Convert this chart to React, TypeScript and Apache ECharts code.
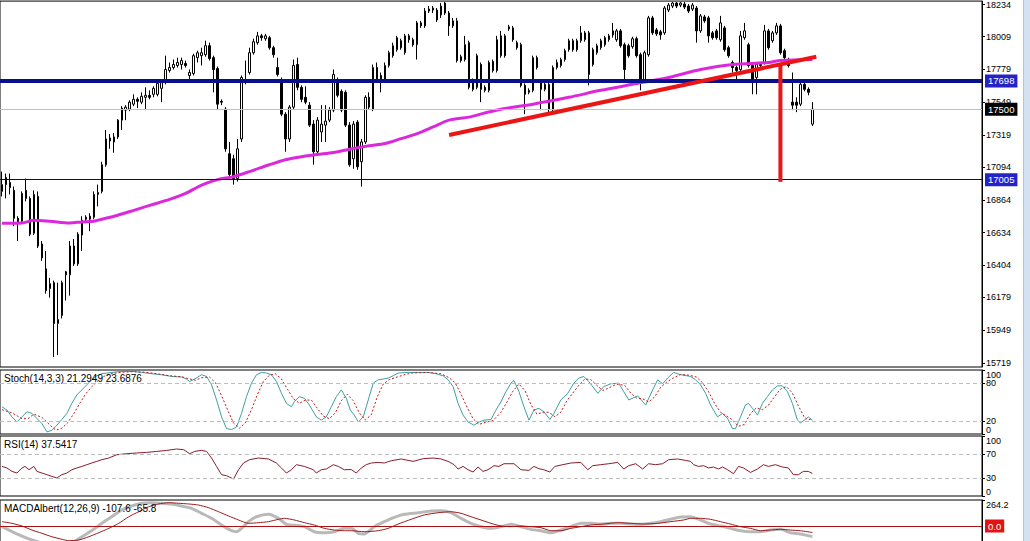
import React, { useEffect, useRef } from "react";
import * as echarts from "echarts";

// ---------- DATA ----------
// candles: [open, close, low, high]
const CANDLES: number[][] = [
  [16923,16971,16888,17062],[17020,16971,16874,17048],[16985,16950,16902,17048],[16930,16735,16679,16957],
  [16735,16700,16575,16749],[16714,16909,16700,16923],[16930,16874,16853,17013],[16874,16623,16609,16888],
  [16630,16902,16617,16930],[16888,16540,16526,16923],[16554,16457,16436,16575],[16380,16227,16206,16505],
  [16241,16276,16178,16317],[16283,15997,15761,16297],[15997,16025,15775,16283],[16053,16283,16032,16297],
  [16359,16338,16158,16366],[16338,16540,16192,16575],[16540,16415,16401,16589],[16415,16623,16401,16637],
  [16617,16721,16505,16749],[16728,16742,16714,16756],[16728,16749,16644,16770],[16742,16902,16728,16923],
  [16902,16916,16818,16971],[16923,17110,16909,17131],[17110,17291,17096,17354],[17298,17277,17222,17326],
  [17305,17270,17194,17333],[17305,17423,17291,17430],[17423,17507,17354,17521],[17493,17514,17423,17528],
  [17500,17549,17486,17562],[17535,17569,17521,17604],[17569,17555,17507,17583],[17549,17590,17535,17618],
  [17583,17597,17500,17653],[17597,17583,17569,17632],[17604,17646,17583,17660],[17604,17681,17590,17702],
  [17646,17688,17549,17702],[17688,17778,17674,17875],[17771,17792,17757,17827],[17792,17813,17778,17848],
  [17806,17827,17792,17861],[17813,17841,17778,17861],[17820,17806,17792,17841],[17736,17757,17708,17778],
  [17750,17875,17736,17889],[17861,17896,17827,17910],[17875,17896,17806,17931],[17882,17945,17868,17980],
  [17945,17855,17841,17966],[17861,17778,17618,17875],[17785,17535,17500,17799],[17555,17549,17528,17569],
  [17500,17222,17201,17514],[17187,17041,17027,17270],[17152,17013,16971,17180],[17013,17222,16992,17291],
  [17291,17722,17270,17736],[17688,17708,17674,17841],[17757,17896,17743,17931],[17896,17973,17882,17994],
  [17966,18014,17952,18042],[18014,18001,17980,18028],[17994,18014,17980,18028],[18001,17931,17917,18014],
  [17931,17882,17861,17945],[17792,17743,17729,17861],[17708,17465,17451,17722],[17465,17291,17201,17479],
  [17291,17514,17270,17528],[17514,17806,17500,17848],[17813,17653,17632,17861],[17653,17569,17549,17667],
  [17583,17549,17535,17660],[17528,17388,17375,17549],[17395,17201,17110,17423],[17201,17423,17187,17444],
  [17340,17395,17270,17528],[17388,17416,17270,17528],[17423,17493,17409,17514],[17493,17743,17479,17778],
  [17708,17597,17583,17722],[17625,17493,17479,17639],[17618,17388,17375,17632],[17388,17110,17096,17409],
  [17152,17395,17082,17416],[17409,17096,17075,17423],[17131,17270,16957,17291],[17270,17583,17256,17597],
  [17583,17514,17500,17618],[17500,17792,17486,17813],[17792,17702,17688,17827],[17736,17702,17618,17757],
  [17702,17806,17688,17827],[17806,17896,17792,17910],[17875,17945,17861,17966],[17917,18001,17903,18014],
  [17980,17931,17917,17994],[17896,18014,17882,18028],[18014,17987,17966,18028],[17987,17952,17938,18001],
  [17952,18105,17848,18119],[18105,18084,18070,18119],[18084,18188,18070,18209],[18188,18202,18174,18223],
  [18195,18209,18174,18223],[18195,18126,18112,18209],[18161,18223,18140,18244],[18244,18174,18161,18251],
  [18174,18084,18014,18188],[18084,18119,18070,18140],[18119,17841,17827,18140],[17868,17841,17827,17882],
  [17848,17952,17834,18014],[17966,17653,17639,17980],[17702,17639,17625,17715],[17653,17875,17639,17889],
  [17813,17639,17549,17827],[17653,17632,17618,17667],[17632,17827,17618,17841],[17834,17771,17757,17848],
  [17771,17987,17757,18014],[17875,18014,17861,18049],[18014,17875,17861,18028],[18063,18077,18049,18091],
  [18070,17987,17973,18084],[17966,17931,17917,17980],[17952,17667,17653,17966],[17667,17604,17465,17681],
  [17618,17632,17604,17646],[17632,17861,17618,17875],[17861,17792,17778,17875],[17688,17639,17493,17702],
  [17639,17674,17625,17688],[17674,17500,17479,17688],[17500,17792,17486,17806],[17792,17827,17778,17848],
  [17806,17848,17792,17861],[17848,17910,17834,17924],[17917,17980,17903,17994],[17980,17917,17903,17994],
  [17917,17980,17903,17994],[17980,18035,17966,18084],[17987,18035,17973,18049],[18035,17743,17667,18049],
  [17917,17813,17799,17931],[17896,17945,17882,17959],[17931,17980,17917,17994],[17952,18001,17938,18014],
  [17987,18014,17973,18028],[18049,18021,18001,18105],[17987,18049,17973,18063],[18049,17945,17931,18063],
  [17952,17778,17708,17966],[17945,17875,17861,17959],[17938,17994,17924,18008],[17994,17875,17861,18008],
  [17882,17708,17632,17896],[17708,17896,17695,17910],[17882,18140,17868,18154],[18140,18035,18021,18154],
  [18056,18028,18014,18070],[18042,18021,17987,18056],[18035,18209,18021,18223],[18195,18230,18181,18244],
  [18223,18244,18209,18251],[18244,18223,18209,18251],[18230,18244,18216,18251],[18237,18216,18202,18251],
  [18223,18188,18174,18237],[18202,18230,18188,18244],[18209,18049,17966,18223],[18049,18154,18035,18167],
  [18147,18119,18105,18161],[18140,18014,17966,18154],[18035,18001,17987,18049],[18049,18001,17987,18063],
  [17987,18105,17973,18154],[18070,17917,17903,18084],[17931,17875,17861,17945],[17827,17792,17757,17841],
  [17792,17771,17702,17806],[17778,18014,17764,18049],[18001,18049,17987,18105],[17952,17806,17792,17966],
  [17806,17708,17604,17820],[17722,17813,17604,17827],[17813,17806,17792,17827],[17827,18049,17813,18091],
  [18049,17931,17917,18063],[17980,18035,17966,18049],[18035,18084,18021,18105],[18084,17896,17882,18098],
  [17910,17861,17848,17924],[17848,17806,17792,17861],[17549,17528,17493,17757],[17549,17528,17479,17583],
  [17535,17674,17521,17708],[17674,17639,17625,17688],[17639,17618,17597,17653],[17395,17500,17382,17549],
];

// number of bar slots across the chart (empty space to the right of the last bar)
const SLOT_COUNT = 246;
const SLOTS = Array.from({ length: SLOT_COUNT }, (_, i) => String(i));

// moving average: [bar index, price]
const MA_LINE: number[][] = [
  [0,16700],[5,16702],[8,16721],[12,16714],[17,16702],[20,16709],[23,16714],[25,16728],[29,16756],
  [33,16790],[37,16825],[42,16867],[46,16909],[50,16968],[54,17006],[58,17027],[62,17062],[67,17110],
  [71,17145],[75,17166],[79,17182],[83,17196],[88,17224],[92,17243],[96,17259],[100,17293],[104,17328],
  [108,17375],[112,17423],[117,17444],[121,17474],[125,17500],[133,17535],[142,17583],[150,17632],
  [158,17674],[167,17722],[175,17778],[183,17813],[192,17827],[195,17841],[203,17848],
];

// drawn objects
const TREND_LINE: number[][] = [[112, 17319], [204, 17868]];
const DROP_LINE: number[][] = [[195, 17813], [195, 16990]];
const LEVEL_MAJOR = 17698;
const LEVEL_BID = 17500;
const LEVEL_LOW = 17005;

const MAIN_TICKS = [15719, 15949, 16179, 16404, 16634, 16864, 17094, 17319, 17549, 17779, 18009, 18234];
const STOCH_TICKS = [0, 20, 80, 100];
const STOCH_LABELS_A = [20, 100];
const STOCH_LABELS_B = [0, 80];
const RSI_TICKS = [0, 30, 70, 100];
const MACD_MIN = -223.5;
const MACD_MAX = 264.2;

const STOCH_K: number[][] = [
  [0,42.6],[1.25,37.4],[2.5,26.8],[3.75,18.9],[5,26.8],[6.25,34.7],[7.5,32.2],[8.75,24.3],[10,16.4],
  [11.25,3.2],[12.5,5.8],[13.75,13.7],[15,22.7],[16.25,32.2],[17.5,47.9],[18.75,61],[20,68.9],[21.25,76.8],
  [22.5,84.7],[23.75,91],[25,94.2],[27.5,96.2],[30,97.8],[32.5,97.8],[35,96.2],[37.5,94.2],[40,92.6],
  [42.5,89.9],[45,89],[46.25,85.8],[47,82],[48.25,85.8],[50,92.6],[51.25,89.9],[52.5,76.8],[53.75,53.2],
  [55,26.8],[56.25,8.5],[57.5,6.9],[58.75,11],[60,32.2],[61.25,58.4],[62.5,79.5],[63.75,92.6],[65,96.2],
  [66.25,95.3],[67.5,92.6],[68.75,82],[70,63.7],[71.25,47.9],[72.5,42.6],[73.25,50.5],[74.5,58.4],
  [75.75,55.8],[77,45.3],[78.75,26.8],[80,21.6],[81.25,26.8],[82.5,42.6],[83.75,58.4],[85,68.9],
  [86.25,55.8],[87.25,37.4],[88.25,29.5],[89.25,18.9],[90.5,26.8],[91.25,42.6],[92,58.4],[93,79.5],
  [94.25,84.7],[95.5,85.8],[96.75,87.4],[98,91],[99.25,95.3],[101.75,96.2],[104.25,96.2],[106.75,96.2],
  [108.75,94.2],[110.5,91],[111.75,84.7],[113,74.1],[114.25,47.9],[115.5,29.5],[116.75,18.9],[118.25,13.7],
  [119.5,18.9],[120.75,21.6],[122.5,22.7],[123.75,37.4],[125,50.5],[126.25,66.2],[127.5,79.5],[128.25,83.6],
  [129.5,66.2],[130.75,42.6],[132,21.6],[133.25,37.4],[134.5,40.1],[135.75,34.7],[137.25,22.7],[138.25,32.2],
  [140,53.2],[141.75,63.7],[143.25,79.5],[144.5,87.4],[145.75,89.9],[147,82],[149.25,63.7],[150.75,74.1],
  [152.5,78.4],[154.5,79.5],[155.75,66.2],[157,53.2],[159.25,59.5],[161.25,45.3],[163,68.9],[164.25,84.7],
  [165.5,78.4],[166.75,87.4],[168.25,96.2],[170,92.6],[172.5,89.9],[173.75,84.7],[175,76.8],[176.25,63.7],
  [177.5,45.3],[179.25,26.8],[180.5,32.2],[181.75,24.3],[183,8.5],[183.75,8.5],[185,26.8],[186.25,45.3],
  [187,47.9],[188,40.1],[189.25,29.5],[190.5,47.9],[191.75,58.4],[193,68.9],[194.25,75.2],[195.5,75.2],
  [196.75,66.2],[198,47.9],[199.25,21.6],[200,17.4],[201.25,22.7],[202,26.8],[203,21.3],
];

const STOCH_D: number[][] = [
  [0,38],[2.5,33],[5,24],[6.5,24],[8,31],[10,26],[12,14],[13.5,6],[15,9],[16.5,18],[18,32],[19.5,48],
  [21,63],[22.5,74],[24,83],[25.5,90],[27,94],[30,96.5],[33,97.5],[36,96.5],[39,94],[42,91],[45,89.5],
  [47,86],[48.5,84],[50,88],[52,89],[53.5,80],[55,60],[56.5,38],[58,17],[59.5,9],[61,18],[62.5,38],
  [64,62],[65.5,82],[67,92],[68.5,94],[70,86],[71.5,70],[73,55],[74.5,48],[76,53],[77.5,53],[79,40],
  [80.5,28],[82,24],[83.5,33],[85,52],[86.5,62],[88,52],[89.5,33],[91,22],[92.5,30],[94,58],[95.5,78],
  [97,85],[99,89],[101,93],[103,95.5],[107,96],[110,94],[112,88],[113.5,80],[115,62],[116.5,42],[118,24],
  [119.5,15],[121,18],[123,21],[125,34],[126.5,50],[128,67],[129.5,78],[131,68],[132.5,46],[134,31],
  [135.5,34],[137,34],[138.5,27],[140,34],[141.5,52],[143,64],[144.5,76],[146,86],[147.5,85],[149,76],
  [150.5,68],[152,72],[154,78],[156,76],[157.5,64],[159,56],[160.5,55],[162,50],[163.5,58],[165,73],
  [166.5,81],[168,87],[170,93],[172,92],[174,89],[175.5,80],[177,66],[178.5,48],[180,34],[181.5,28],
  [183,22],[184.5,12],[186,15],[187.5,32],[189,41],[190.5,38],[192,45],[193.5,58],[195,70],[196.5,74],
  [198,64],[199.5,44],[201,26],[202,22],[203,23.7],
];

const RSI: number[][] = [
  [0,49.3],[1.25,46.7],[2.5,41],[3.75,38.3],[5,46.7],[5.75,49.3],[6.75,43.8],[8,49.3],[8.75,41],[10,38.3],
  [11.25,35.5],[12.5,32.7],[13.75,30],[15,35.5],[16.25,38.3],[17.5,43.8],[18.75,46.7],[20,49.3],[21.25,52.2],
  [22.5,55],[23.75,57.7],[25,60.5],[26.75,63.3],[28.75,68.8],[31.25,70.5],[33.75,71.7],[36.25,72.7],
  [38.75,74.3],[41.25,76],[43.75,78.3],[45.5,77.2],[47,70.5],[48.25,74.3],[50,76],[51.25,74.3],[52.5,63.3],
  [53.75,49.3],[55,35.5],[56.25,33.8],[58,28.3],[59.25,43.8],[60.5,55],[62,60.5],[64.25,63.3],[66.75,61.7],
  [68.75,55],[70,46.7],[71.25,38.3],[72.5,43.8],[73.75,52.2],[75.75,49.3],[78,43.8],[78.75,38.3],[80,43.8],
  [81.25,45],[83,52.2],[84.25,49.3],[85.75,43.8],[87.5,44],[88.75,38.3],[90,46.7],[91.25,52.2],[92.5,55],
  [94.25,56],[95.75,55],[97.5,58.8],[100,61.7],[103,57.7],[105.5,62.2],[108,63.3],[110,61.7],[111.75,57.7],
  [113.25,52.2],[114.25,45],[115.5,49.3],[116.75,43.8],[118,40],[119.25,48.3],[120.5,41],[121.75,43.8],
  [123.25,50.5],[124.5,49.3],[125.75,53.8],[128.25,53.8],[130,43.8],[132,42.7],[133.25,49.3],[134.5,45.5],
  [135.75,43.8],[137.25,40],[138.5,49.3],[140.5,52.2],[142.5,55],[145,56],[146.75,43.8],[148,50.5],
  [150,52.2],[152,53.8],[154.25,56],[155.75,45],[157,50.5],[158.75,53.8],[160.5,45],[162,53.8],[163.75,52.2],
  [165.5,53.8],[167,60.5],[169.25,61.7],[171.25,59.3],[172.5,57.7],[173.25,52.2],[174.5,49.3],[175.75,50.5],
  [177,46.7],[178.25,48.3],[179.5,45],[180.5,48.3],[181.75,43.8],[183.25,37.2],[184.5,49.3],[185.75,46.7],
  [187.5,39.3],[189.25,45],[190.75,52.2],[192,49.3],[193.75,52.2],[195.5,48.3],[197,46.7],[198.25,35.5],
  [199.5,35.5],[200.75,41],[202,41],[203,37.54],
];

const MACD_MAIN: number[][] = [
  [0,-7],[2.5,-58],[5,-102],[7.5,-142],[10,-175],[12.5,-195],[15,-200],[17.5,-180],[18.75,-142],[20.75,-91],
  [23,-34],[25,27],[27.5,94],[30,163],[32.5,203],[35,231],[37.5,237],[40,231],[42.5,224],[45,203],[47.5,180],
  [50,129],[52.5,78],[55,10],[57.5,-48],[58.75,-58],[60,-24],[61.75,44],[63.75,94],[66.75,119],[69.25,78],
  [71.25,17],[73.25,7],[75.75,-7],[78.25,-58],[80.75,-68],[83.25,-58],[85.75,-24],[87.5,-24],[89.25,-74],
  [90.75,-81],[93.25,-7],[95.75,44],[98.25,88],[100.75,119],[104.25,135],[107.5,152],[110,156],[112.5,135],
  [115,78],[117.5,27],[120,-7],[122.5,-24],[125,-7],[127.5,17],[130,-7],[132.5,-34],[135,-48],[137.5,-68],
  [140,-41],[142.5,-7],[145,27],[147.5,27],[150,20],[152.5,27],[155,27],[157.5,20],[160,17],[162.5,27],
  [165,44],[167.5,68],[170,91],[172.5,94],[175,61],[177.5,20],[180,0],[182.5,-24],[185,-48],[187.5,-58],
  [190,-58],[192.5,-41],[195,-34],[197.5,-68],[200,-81],[203,-107.6],
];

const MACD_SIGNAL: number[][] = [
  [0,44],[2.5,27],[5,0],[7.5,-41],[10,-74],[12.5,-109],[15,-135],[16.75,-149],[19.25,-142],[21.75,-109],
  [24.25,-68],[26.75,-24],[29.25,27],[31.75,94],[34.25,145],[36.75,196],[39.25,224],[41.75,237],[44.25,231],
  [46.75,224],[49.25,213],[51.75,186],[54.25,145],[56.75,102],[59.25,61],[61.75,27],[64.25,34],[66.75,44],
  [69.25,68],[70.75,78],[73.25,61],[75.75,34],[78.25,10],[80.75,-24],[83.25,-41],[85.75,-48],[87.5,-48],
  [90.75,-58],[94.25,-48],[96.75,-24],[99.25,20],[102.5,68],[105.75,112],[109.25,135],[112.5,145],[115,129],
  [117.5,94],[120,61],[122.5,27],[125,0],[127.5,-7],[130,0],[132.5,-7],[135,-17],[137.5,-48],[140,-48],
  [142.5,-24],[145,-7],[147.5,10],[150.75,20],[154.25,34],[157.5,27],[160.75,20],[164.25,27],[167.5,44],
  [170.75,61],[172.5,78],[175,78],[177.5,68],[180,44],[182.5,20],[185,-7],[187.5,-24],[190,-48],[192.5,-41],
  [195,-34],[197.5,-41],[200,-48],[203,-65.8],
];

const TITLE_STOCH = "Stoch(14,3,3) 21.2949 23.6876";
const TITLE_RSI = "RSI(14) 37.5417";
const TITLE_MACD = "MACDAlbert(12,26,9) -107.6 -65.8";

// ---------- CHART ----------
const FONT = '"Liberation Sans", Arial, sans-serif';
const AXIS_FONT = 9;
const CHART_H = 560; // taller than the window, the bottom panel is cut like in the source

function yAxisBase(gridIndex: number, min: number, max: number, ticks: number[], labels: number[], fmt: (v: number) => string, extra: any = {}, withLine = true) {
  return {
    type: "value",
    gridIndex,
    position: "right",
    min,
    max,
    scale: true,
    splitLine: { show: false },
    axisLine: { show: withLine, onZero: false, lineStyle: { color: "#000", width: 1 } },
    axisTick: { show: withLine, length: 3, customValues: ticks, lineStyle: { color: "#000" } },
    axisLabel: {
      customValues: labels,
      color: "#000",
      fontSize: AXIS_FONT,
      fontFamily: FONT,
      margin: 4,
      hideOverlap: false,
      showMinLabel: true,
      showMaxLabel: true,
      formatter: fmt,
      ...extra,
    },
  };
}

function levelLabel(bg: string) {
  return {
    show: true,
    position: "end",
    distance: 3,
    color: "#fff",
    backgroundColor: bg,
    padding: [2, 3, 1, 3],
    fontSize: 9.5,
    fontFamily: FONT,
    formatter: (p: any) => String(p.value),
  };
}

export default function App() {
  const ref = useRef<HTMLDivElement>(null);

  useEffect(() => {
    if (!ref.current) return;
    const chart = echarts.init(ref.current, null, { renderer: "svg" });

    const gridBase = { left: -2, right: 48, show: true, borderColor: "#000", borderWidth: 1, backgroundColor: "#fff", containLabel: false };
    const hiddenX = (gridIndex: number) => ({ type: "value", gridIndex, min: -0.5, max: SLOT_COUNT - 0.5, show: false });
    const dashed = { color: "#bdbdbd", type: [4, 3], width: 1 };
    const vAlign = { verticalAlignMaxLabel: "top", verticalAlignMinLabel: "bottom" };
    const str = (v: number) => String(v);

    const option: any = {
      animation: false,
      backgroundColor: "#fff",
      grid: [
        { ...gridBase, top: -2, bottom: CHART_H - 367 },
        { ...gridBase, top: 370, bottom: CHART_H - 434 },
        { ...gridBase, top: 436, bottom: CHART_H - 496 },
        { ...gridBase, top: 500, bottom: CHART_H - 548 },
      ],
      xAxis: [
        { type: "category", gridIndex: 0, data: SLOTS, boundaryGap: true, show: false },
        hiddenX(1),
        hiddenX(2),
        hiddenX(3),
      ],
      yAxis: [
        yAxisBase(0, 15691.5, 18258, MAIN_TICKS, MAIN_TICKS, (v: number) => String(Math.round(v))),
        yAxisBase(1, 0, 100, STOCH_TICKS, STOCH_LABELS_A, str, { verticalAlignMaxLabel: "top" }),
        yAxisBase(2, 0, 100, RSI_TICKS, RSI_TICKS, str, vAlign),
        yAxisBase(3, MACD_MIN, MACD_MAX, [MACD_MIN, MACD_MAX], [MACD_MIN, MACD_MAX], (v: number) => v.toFixed(1), vAlign),
        yAxisBase(1, 0, 100, STOCH_TICKS, STOCH_LABELS_B, str, { verticalAlignMinLabel: "bottom" }, false),
      ],
      series: [
        {
          type: "candlestick",
          xAxisIndex: 0,
          yAxisIndex: 0,
          data: CANDLES,
          barWidth: 2,
          z: 2,
          itemStyle: { color: "#fff", color0: "#000", borderColor: "#000", borderColor0: "#000", borderWidth: 1 },
        },
        {
          type: "line",
          xAxisIndex: 0,
          yAxisIndex: 0,
          data: MA_LINE,
          smooth: 0.3,
          symbol: "none",
          z: 3,
          lineStyle: { color: "#dc28dc", width: 3 },
          markLine: {
            silent: true,
            symbol: ["none", "none"],
            animation: false,
            data: [
              { yAxis: LEVEL_BID, lineStyle: { color: "#c0c0c0", width: 1, type: "solid" }, label: levelLabel("#000") },
              { yAxis: LEVEL_LOW, lineStyle: { color: "#0a0a55", width: 1, type: "solid" }, label: levelLabel("#2323c6") },
              { yAxis: LEVEL_MAJOR, lineStyle: { color: "#08108c", width: 4, type: "solid" }, label: levelLabel("#2323c6") },
            ],
          },
        },
        {
          type: "line",
          xAxisIndex: 0,
          yAxisIndex: 0,
          data: TREND_LINE,
          symbol: "none",
          z: 6,
          lineStyle: { color: "#ec1515", width: 4 },
        },
        {
          type: "line",
          xAxisIndex: 0,
          yAxisIndex: 0,
          data: DROP_LINE,
          symbol: "none",
          z: 6,
          lineStyle: { color: "#ec1515", width: 4, cap: "butt" },
        },
        {
          type: "line",
          xAxisIndex: 1,
          yAxisIndex: 1,
          data: STOCH_K,
          symbol: "none",
          z: 3,
          lineStyle: { color: "#3f9f9f", width: 1 },
          markLine: { silent: true, symbol: ["none", "none"], label: { show: false }, lineStyle: dashed, data: [{ yAxis: 80 }, { yAxis: 20 }] },
        },
        {
          type: "line",
          xAxisIndex: 1,
          yAxisIndex: 1,
          data: STOCH_D,
          symbol: "none",
          z: 4,
          lineStyle: { color: "#c21818", width: 1, type: [2, 2] },
        },
        {
          type: "line",
          xAxisIndex: 2,
          yAxisIndex: 2,
          data: RSI,
          symbol: "none",
          z: 3,
          lineStyle: { color: "#8a1c2c", width: 1 },
          markLine: { silent: true, symbol: ["none", "none"], label: { show: false }, lineStyle: dashed, data: [{ yAxis: 70 }, { yAxis: 30 }] },
        },
        {
          type: "line",
          xAxisIndex: 3,
          yAxisIndex: 3,
          data: MACD_MAIN,
          symbol: "none",
          smooth: 0.2,
          z: 3,
          lineStyle: { color: "#b9b9b9", width: 3 },
        },
        {
          type: "line",
          xAxisIndex: 3,
          yAxisIndex: 3,
          data: MACD_SIGNAL,
          symbol: "none",
          smooth: 0.2,
          z: 4,
          lineStyle: { color: "#9e1a1a", width: 1 },
          markLine: {
            silent: true,
            symbol: ["none", "none"],
            lineStyle: { color: "#a81414", width: 1, type: "solid" },
            data: [{ yAxis: 0, label: { ...levelLabel("#e01414"), formatter: "0.0" } }],
          },
        },
      ],
      graphic: [
        { type: "rect", shape: { x: 1023, y: 0, width: 7, height: CHART_H }, style: { fill: "#d4e1f3" }, z: 10 },
        { type: "line", shape: { x1: 1023.5, y1: 0, x2: 1023.5, y2: CHART_H }, style: { stroke: "#b3c5dd", lineWidth: 1 }, z: 10 },
        { type: "text", x: 4, y: 378, z: 10, style: { text: TITLE_STOCH, fill: "#000", font: `10px ${FONT}`, verticalAlign: "middle" } },
        { type: "text", x: 4, y: 444, z: 10, style: { text: TITLE_RSI, fill: "#000", font: `10px ${FONT}`, verticalAlign: "middle" } },
        { type: "text", x: 4, y: 508, z: 10, style: { text: TITLE_MACD, fill: "#000", font: `10px ${FONT}`, verticalAlign: "middle" } },
      ],
    };

    chart.setOption(option);
    return () => chart.dispose();
  }, []);

  return (
    <div style={{ position: "fixed", left: 0, top: 0, width: 1030, height: 541, overflow: "hidden", background: "#fff" }}>
      <div ref={ref} style={{ width: 1030, height: CHART_H }} />
    </div>
  );
}
